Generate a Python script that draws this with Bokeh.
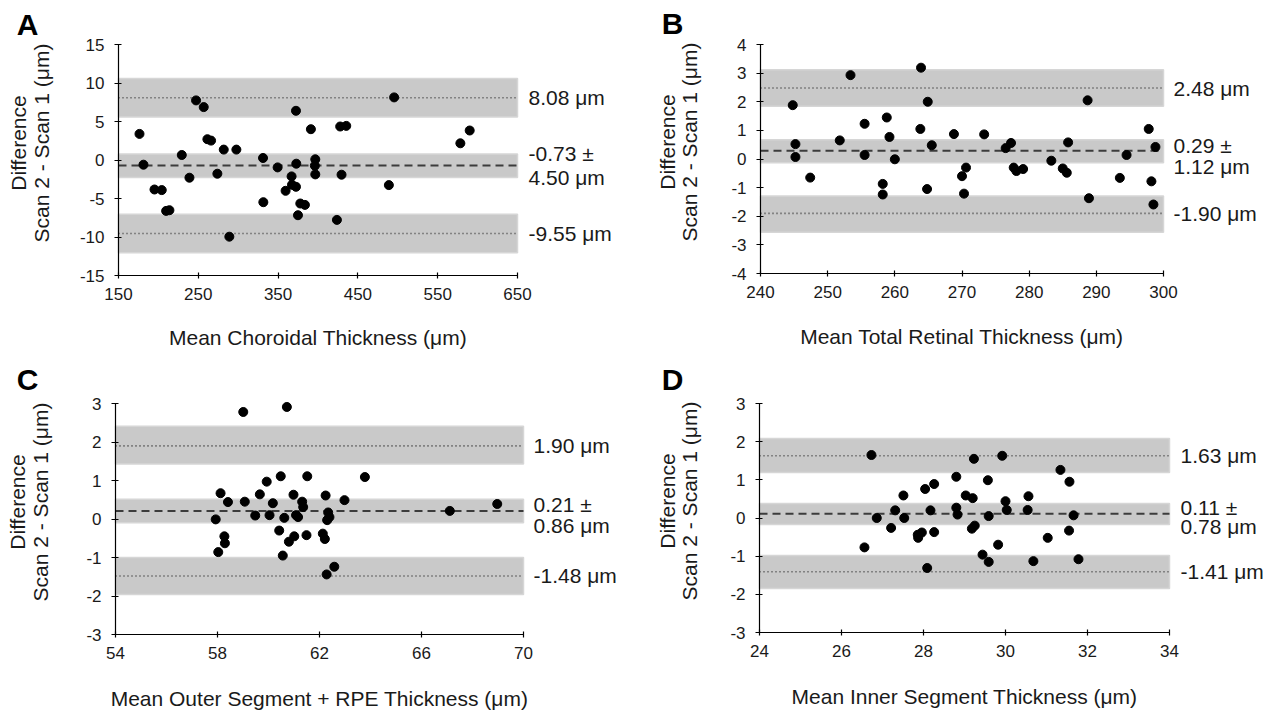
import math
from bokeh.plotting import figure
from bokeh.models import Label, FixedTicker, Range1d
from bokeh.layouts import column, row
from bokeh.embed import file_html
from bokeh.resources import INLINE

FONT = "Liberation Sans"
TXT = "#1a1a1a"
BAND = "#c9c9c9"
LINEC = "#3c3c3c"

# ---------------- Panel A: choroidal thickness ----------------
a_mean = [176.3, 181.3, 195.1, 204.2, 209.7, 213.8, 229.3, 238.9, 247.2, 256.8,
          261.4, 266.0, 273.9, 281.9, 288.9, 297.7, 331.1, 331.5, 349.4, 359.4,
          366.9, 367.4, 372.4, 372.4, 372.8, 374.9, 377.8, 383.6, 391.1, 396.6,
          396.1, 396.6, 423.7, 427.8, 429.5, 435.4, 488.8, 495.4, 578.4, 590.1]
a_diff = [3.39, -0.61, -3.83, -3.91, -6.61, -6.52, 0.65, -2.30, 7.74, 6.87,
          2.70, 2.52, -1.78, 1.35, -9.96, 1.35, 0.26, -5.48, -0.96, -4.00,
          -2.13, -3.22, -3.48, 6.39, -0.48, -7.17, -5.65, -5.83, 4.00, 0.09,
          -0.74, -1.87, -7.78, 4.35, -1.91, 4.43, -3.26, 8.13, 2.17, 3.83]
a_stats = {"upper": 8.08, "bias": -0.73, "sd": 4.50, "lower": -9.55}
a_bands_low = [5.57, -2.26, -12.04]
a_bands_high = [10.57, 0.78, -7.04]
a_xticks = [150, 250, 350, 450, 550, 650]
a_yticks = [-15, -10, -5, 0, 5, 10, 15]

# ---------------- Panel B: total retinal thickness ----------------
b_mean = [244.8, 245.2, 245.2, 247.4, 251.8, 253.4, 255.5, 255.5, 258.2, 258.2,
          258.8, 259.2, 260.0, 263.8, 263.9, 264.8, 264.9, 265.5, 268.8, 270.0,
          270.3, 270.6, 273.3, 276.5, 277.3, 277.7, 278.1, 279.1, 283.3, 285.0,
          285.6, 285.8, 288.7, 288.9, 293.5, 294.5, 297.8, 298.2, 298.5, 298.8]
b_diff = [1.88, 0.52, 0.07, -0.65, 0.65, 2.93, 1.23, 0.14, -0.87, -1.24,
          1.45, 0.77, -0.01, 1.05, 3.19, -1.05, 2.00, 0.48, 0.87, -0.60,
          -1.21, -0.30, 0.86, 0.38, 0.56, -0.30, -0.42, -0.35, -0.06, -0.33,
          -0.48, 0.58, 2.05, -1.37, -0.66, 0.14, 1.05, -0.78, -1.59, 0.42]
b_stats = {"upper": 2.48, "bias": 0.29, "sd": 1.12, "lower": -1.90}
b_bands_low = [1.84, -0.13, -2.56]
b_bands_high = [3.12, 0.67, -1.29]
b_xticks = [240, 250, 260, 270, 280, 290, 300]
b_yticks = [-4, -3, -2, -1, 0, 1, 2, 3, 4]

# ---------------- Panel C: outer segment + RPE thickness ----------------
c_mean = [59.01, 60.72, 58.12, 58.41, 57.93, 58.27, 58.29, 58.03, 59.07, 59.48,
          59.66, 59.93, 60.04, 60.17, 60.48, 60.42, 60.56, 60.62, 60.80, 60.98,
          61.01, 61.08, 61.16, 61.32, 61.36, 61.49, 61.52, 62.24, 62.13, 62.21,
          62.34, 62.39, 62.30, 62.28, 62.58, 62.98, 63.78, 67.11, 68.97]
c_diff = [2.78, 2.91, 0.67, 0.44, -0.01, -0.45, -0.63, -0.86, 0.45, 0.09,
          0.64, 0.97, 0.10, 0.41, 1.11, -0.30, -0.95, 0.03, -0.59, 0.63,
          -0.45, 0.10, 0.05, 0.45, 0.31, -0.42, 1.11, 0.61, -0.38, -0.52,
          0.17, 0.05, -0.03, -1.44, -1.24, 0.49, 1.09, 0.21, 0.39]
c_stats = {"upper": 1.90, "bias": 0.21, "sd": 0.86, "lower": -1.48}
c_bands_low = [1.43, -0.10, -1.96]
c_bands_high = [2.41, 0.51, -1.00]
c_xticks = [54, 58, 62, 66, 70]
c_yticks = [-3, -2, -1, 0, 1, 2, 3]

# ---------------- Panel D: inner segment thickness ----------------
d_mean = [26.56, 26.73, 26.86, 27.21, 27.31, 27.51, 27.53, 27.86, 27.87, 27.96,
          28.04, 28.09, 28.17, 28.26, 28.26, 28.80, 28.80, 28.83, 29.03, 29.20,
          29.18, 29.25, 29.23, 29.44, 29.57, 29.59, 29.59, 29.82, 29.92, 30.00,
          30.03, 30.56, 30.54, 30.68, 31.03, 31.34, 31.56, 31.55, 31.66, 31.78]
d_diff = [-0.77, 1.65, 0.00, -0.26, 0.20, 0.59, 0.00, -0.44, -0.52, -0.38,
          0.76, -1.31, 0.20, 0.89, -0.37, 1.08, 0.27, 0.09, 0.59, 0.52,
          -0.28, -0.20, 1.55, -0.96, 0.99, 0.05, -1.15, -0.70, 1.63, 0.44,
          0.21, 0.57, 0.21, -1.13, -0.52, 1.26, 0.95, -0.33, 0.07, -1.08]
d_stats = {"upper": 1.63, "bias": 0.11, "sd": 0.78, "lower": -1.41}
d_bands_low = [1.19, -0.17, -1.85]
d_bands_high = [2.08, 0.38, -0.98]
d_xticks = [24, 26, 28, 30, 32, 34]
d_yticks = [-3, -2, -1, 0, 1, 2, 3]

UNIT = "\u03bcm"


def make_panel(letter, xs, ys, stats, blo, bhi, xticks, yticks, xtitle, geom):
    (W, H, box, letter_xy, ytitle_dx, xtitle_dy, mean_offs, ann_dx) = geom
    left, right, top, bottom = box
    x0, x1 = xticks[0], xticks[-1]
    y0, y1 = yticks[0], yticks[-1]
    # the plot frame fills the whole figure; ranges are set so the
    # axes box lands at the requested pixel box
    sx = (right - left) / (x1 - x0)
    sy = (bottom - top) / (y1 - y0)
    xr = Range1d(x0 - left / sx, x1 + (W - right) / sx)
    yr = Range1d(y0 - (H - bottom) / sy, y1 + top / sy)
    p = figure(width=W, height=H, x_range=xr, y_range=yr,
               output_backend="svg", toolbar_location=None, min_border=0)
    p.outline_line_color = None
    p.grid.visible = False
    p.background_fill_color = "white"
    p.border_fill_color = "white"

    # confidence bands
    p.quad(left=[x0] * len(blo), right=[x1] * len(blo), bottom=blo, top=bhi,
           fill_color=BAND, line_color="#d6d6d6", line_width=1.5)
    # limits of agreement (dotted) and bias (dashed)
    for v in (stats["upper"], stats["lower"]):
        p.line([x0, x1], [v, v], line_color=LINEC, line_width=1.6, line_dash="1 3")
    p.line([x0, x1], [stats["bias"], stats["bias"]], line_color=LINEC,
           line_width=2, line_dash="8 5")

    p.scatter(xs, ys, size=9, fill_color="black", line_color="black")

    # axes placed at the data origin of the box
    p.xaxis.fixed_location = y0
    p.yaxis.fixed_location = x0
    p.xaxis.bounds = (x0, x1)
    p.yaxis.bounds = (y0, y1)
    for ax, ticks in ((p.xaxis, xticks), (p.yaxis, yticks)):
        ax.ticker = FixedTicker(ticks=ticks)
        ax.major_label_overrides = {t: str(t) for t in ticks}
        ax.axis_line_color = "black"
        ax.axis_line_width = 1.2
        ax.major_tick_line_color = "black"
        ax.major_tick_line_width = 1.2
        ax.minor_tick_line_color = None
        ax.major_label_text_font = FONT
        ax.major_label_text_font_size = "17px"
        ax.major_label_text_color = TXT
    p.xaxis.major_tick_in = 3
    p.xaxis.major_tick_out = 3
    p.yaxis.major_tick_in = 3
    p.yaxis.major_tick_out = 4
    p.xaxis.major_label_standoff = 9
    p.yaxis.major_label_standoff = 10

    # x-axis title
    p.add_layout(Label(x=(x0 + x1) / 2, y=y0, y_offset=-xtitle_dy, text=xtitle,
                       text_align="center", text_baseline="middle",
                       text_font=FONT, text_font_size="21px", text_color=TXT))
    # y-axis title (two lines)
    ymid = (y0 + y1) / 2
    for txt, dx in (("Difference", ytitle_dx[0]),
                    ("Scan 2 - Scan 1 (" + UNIT + ")", ytitle_dx[1])):
        p.add_layout(Label(x=x0, y=ymid, x_offset=dx, y_offset=17, text=txt,
                           angle=math.pi / 2, text_align="center",
                           text_baseline="middle", text_font=FONT,
                           text_font_size="21px", text_color=TXT))
    # panel letter
    p.add_layout(Label(x=letter_xy[0], y=H - letter_xy[1], x_units="screen",
                       y_units="screen", text=letter, text_align="center",
                       text_baseline="middle", text_font=FONT, text_font_size="30px",
                       text_font_style="bold", text_color="black"))

    # right-hand annotations
    def ann(y, txt, yoff):
        p.add_layout(Label(x=x1, y=y, x_offset=ann_dx, y_offset=yoff, text=txt,
                           text_align="left", text_baseline="middle",
                           text_font=FONT, text_font_size="21px", text_color=TXT))
    ann(stats["upper"], f"{stats['upper']:.2f} {UNIT}", 0)
    ann(stats["bias"], f"{stats['bias']:.2f} \u00b1", mean_offs[0])
    ann(stats["bias"], f"{stats['sd']:.2f} {UNIT}", mean_offs[1])
    ann(stats["lower"], f"{stats['lower']:.2f} {UNIT}", 0)
    return p


pA = make_panel("A", a_mean, a_diff, a_stats, a_bands_low, a_bands_high,
                a_xticks, a_yticks, "Mean Choroidal Thickness (" + UNIT + ")",
                (636, 355, (118, 517, 44, 275), (27, 24), (-100, -77), 62,
                 (12, -12), 11))
pB = make_panel("B", b_mean, b_diff, b_stats, b_bands_low, b_bands_high,
                b_xticks, b_yticks, "Mean Total Retinal Thickness (" + UNIT + ")",
                (630, 355, (124, 527, 44, 273), (36, 23), (-93, -71), 63,
                 (5, -16), 10))
pC = make_panel("C", c_mean, c_diff, c_stats, c_bands_low, c_bands_high,
                c_xticks, c_yticks, "Mean Outer Segment + RPE Thickness (" + UNIT + ")",
                (636, 355, (115, 523, 48, 279), (27, 24), (-98, -75), 64,
                 (6, -15), 10))
pD = make_panel("D", d_mean, d_diff, d_stats, d_bands_low, d_bands_high,
                d_xticks, d_yticks, "Mean Inner Segment Thickness (" + UNIT + ")",
                (630, 355, (123, 533, 48, 277), (36, 24), (-92, -70), 64,
                 (6, -13), 11))

layout = column(row(pA, pB, spacing=0), row(pC, pD, spacing=0), spacing=0)
open("out.html", "w").write(file_html(layout, INLINE))
